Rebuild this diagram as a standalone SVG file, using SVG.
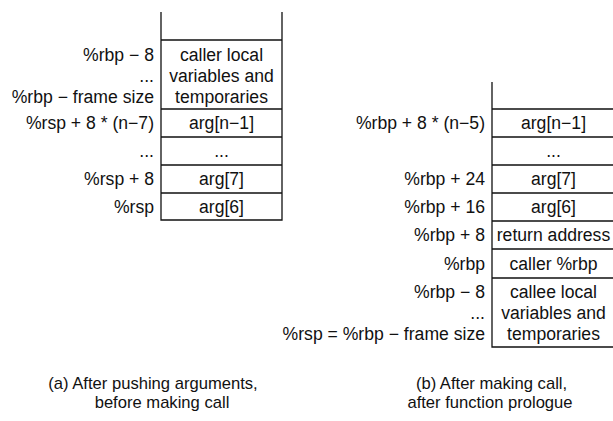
<svg xmlns="http://www.w3.org/2000/svg" width="613" height="421" viewBox="0 0 613 421">
<style>
text{font-family:"Liberation Sans",Arial,sans-serif;font-size:17.6px;fill:#111}
.l{text-anchor:end}
.c{text-anchor:middle}
.cap{font-size:16.6px}
.b{fill:none;stroke:#111;stroke-width:1.3}
</style>
<rect width="613" height="421" fill="#fff"/>
<g id="stack-a">
<path class="b" d="M161,12V220H282V12M161,40H282M161,109H282M161,137H282M161,165H282M161,193H282"/>
</g>
<g id="a-locals">
<text class="c" x="221.5" y="61">caller local</text>
<text class="c" x="221.5" y="82">variables and</text>
<text class="c" x="221.5" y="103">temporaries</text>
<text class="l" x="154" y="61">%rbp − 8</text>
<text class="l" x="154" y="82">...</text>
<text class="l" x="154" y="103">%rbp − frame size</text>
</g>
<g id="a-argn1"><text class="c" x="221.5" y="129">arg[n−1]</text><text class="l" x="154" y="129">%rsp + 8 * (n−7)</text></g>
<g id="a-dots"><text class="c" x="221.5" y="157">...</text><text class="l" x="154" y="157">...</text></g>
<g id="a-arg7"><text class="c" x="221.5" y="185">arg[7]</text><text class="l" x="154" y="185">%rsp + 8</text></g>
<g id="a-arg6"><text class="c" x="221.5" y="212.5">arg[6]</text><text class="l" x="154" y="212.5">%rsp</text></g>
<g id="stack-b">
<path class="b" d="M492,82V347H616M492,109H616M492,137H616M492,165H616M492,193H616M492,221H616M492,249H616M492,278H616"/>
</g>
<g id="b-argn1"><text class="c" x="553.5" y="129">arg[n−1]</text><text class="l" x="485" y="129">%rbp + 8 * (n−5)</text></g>
<g id="b-dots"><text class="c" x="553.5" y="157">...</text></g>
<g id="b-arg7"><text class="c" x="553.5" y="185">arg[7]</text><text class="l" x="485" y="185">%rbp + 24</text></g>
<g id="b-arg6"><text class="c" x="553.5" y="213">arg[6]</text><text class="l" x="485" y="213">%rbp + 16</text></g>
<g id="b-ret"><text class="c" x="553.5" y="241">return address</text><text class="l" x="485" y="241">%rbp + 8</text></g>
<g id="b-rbp"><text class="c" x="553.5" y="269.5">caller %rbp</text><text class="l" x="485" y="269.5">%rbp</text></g>
<g id="b-locals">
<text class="c" x="553.5" y="297.5">callee local</text>
<text class="c" x="553.5" y="318.5">variables and</text>
<text class="c" x="553.5" y="339.5">temporaries</text>
<text class="l" x="485" y="297.5">%rbp − 8</text>
<text class="l" x="485" y="318.5">...</text>
<text class="l" x="485" y="339.5">%rsp = %rbp − frame size</text>
</g>
<g id="caption-a">
<text class="c cap" x="153" y="389">(a) After pushing arguments,</text>
<text class="c cap" x="162" y="408">before making call</text>
</g>
<g id="caption-b">
<text class="c cap" x="491.5" y="389">(b) After making call,</text>
<text class="c cap" x="490" y="408">after function prologue</text>
</g>
</svg>
